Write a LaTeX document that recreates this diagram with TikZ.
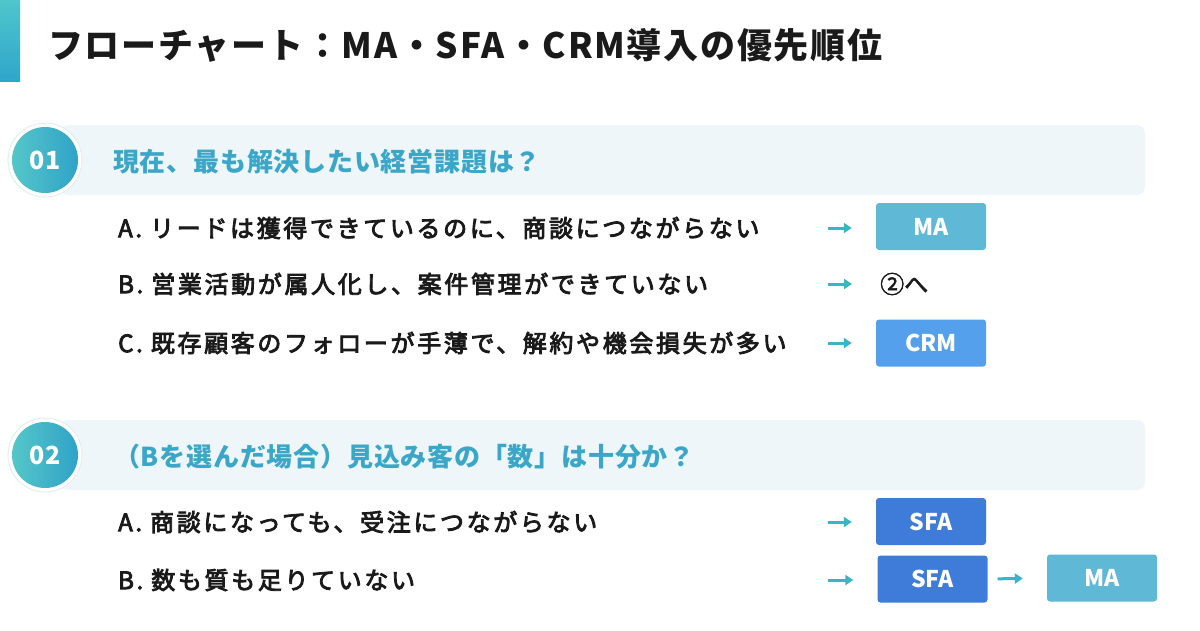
\documentclass[tikz,border=0pt]{standalone}
\usepackage{fontspec}
\setmainfont{Noto Sans CJK JP}
\newfontfamily\titlefont[LetterSpace=5]{Noto Sans CJK JP}
\newfontfamily\optfont[LetterSpace=11,FakeBold=3.5]{Noto Sans CJK JP}
\newfontfamily\headfont[LetterSpace=3]{Noto Sans CJK JP}
\newfontfamily\plainfont[FakeBold=2]{Noto Sans CJK JP}
\usetikzlibrary{arrows.meta}
\definecolor{barTop}{HTML}{4FC6CB}
\definecolor{barBot}{HTML}{2FA6CB}
\definecolor{circL}{HTML}{55C6C8}
\definecolor{circR}{HTML}{2FA3C8}
\definecolor{band}{HTML}{EEF6F9}
\definecolor{headcol}{HTML}{3AA6C8}
\definecolor{arrcol}{HTML}{3BB4C9}
\definecolor{macol}{HTML}{60B8D7}
\definecolor{crmcol}{HTML}{55A0EC}
\definecolor{sfacol}{HTML}{3F7BD9}
\definecolor{ink}{HTML}{1A1A1A}
\definecolor{ring}{HTML}{E2EEF2}
\tikzset{
  ringnode/.style={circle, fill=white, draw=ring, line width=1pt, minimum size=74pt, inner sep=0pt},
  numnode/.style={circle, left color=circL, right color=circR, minimum size=66pt, inner sep=0pt, text=white, font=\bfseries\fontsize{25}{25}\selectfont},
  headtext/.style={anchor=west, inner sep=0pt, text=headcol, font=\headfont\bfseries\fontsize{26}{28}\selectfont},
  opttext/.style={anchor=west, inner sep=0pt, text=ink, font=\optfont\fontsize{24}{26}\selectfont},
  resbox/.style={rectangle, rounded corners=3pt, minimum width=110pt, minimum height=47pt, inner sep=0pt, text=white, font=\bfseries\fontsize{23}{23}\selectfont},
  flow/.style={draw=arrcol, line width=3pt, -{Triangle[length=8pt,width=10pt]}, shorten >=24pt}
}
\begin{document}
\begin{tikzpicture}[x=1pt,y=-1pt]
\useasboundingbox (0,0) rectangle (1200,630);
\fill[white] (0,0) rectangle (1200,630);
% title
\shade[top color=barTop, bottom color=barBot] (0,0) rectangle (20,81);
\node[anchor=west, inner sep=0pt, text=ink, font=\titlefont\bfseries\fontsize{35}{36}\selectfont] (title) at (48,45) {フローチャート：MA・SFA・CRM導入の優先順位};
% section 1
\fill[band, rounded corners=8pt] (60,125) rectangle (1145,195);
\node[ringnode] (r1) at (45,160) {};
\node[numnode] (n1) at (45,160) {01};
\node[headtext] (h1) at (113,162) {現在、最も解決したい経営課題は？};
\node[opttext] (q1a) at (118,228) {A. リードは獲得できているのに、商談につながらない};
\node[opttext] (q1b) at (118,284) {B. 営業活動が属人化し、案件管理ができていない};
\node[opttext] (q1c) at (118,343) {C. 既存顧客のフォローが手薄で、解約や機会損失が多い};
\node[resbox, fill=macol] (ma1) at (931,226.5) {MA};
\node[anchor=west, inner sep=0pt, text=ink, font=\plainfont\fontsize{24}{24}\selectfont] (go2) at (880,284) {②へ};
\node[resbox, fill=crmcol] (crm1) at (931,343) {CRM};
\coordinate (a1) at (828,228);
\coordinate (a2) at (828,284);
\coordinate (a3) at (828,343);
\draw[flow] (a1) -- (a1 -| ma1.west);
\draw[flow, shorten >=28pt] (a2) -- (a2 -| go2.west);
\draw[flow] (a3) -- (a3 -| crm1.west);
% section 2
\fill[band, rounded corners=8pt] (60,420) rectangle (1145,490);
\node[ringnode] (r2) at (45,455) {};
\node[numnode] (n2) at (45,455) {02};
\node[headtext] (h2) at (114,457) {（Bを選んだ場合）見込み客の「数」は十分か？};
\node[opttext] (q2a) at (118,522) {A. 商談になっても、受注につながらない};
\node[opttext] (q2b) at (118,580) {B. 数も質も足りていない};
\node[resbox, fill=sfacol] (sfa1) at (931,521.5) {SFA};
\node[resbox, fill=sfacol] (sfa2) at (932.5,579) {SFA};
\node[resbox, fill=macol] (ma2) at (1102,578) {MA};
\coordinate (b1) at (828,522);
\coordinate (b2) at (828,580);
\draw[flow] (b1) -- (b1 -| sfa1.west);
\draw[flow] (b2) -- (b2 -| sfa2.west);
\draw[flow, shorten <=10pt] (sfa2.east) -- (ma2.west);
\end{tikzpicture}
\end{document}
